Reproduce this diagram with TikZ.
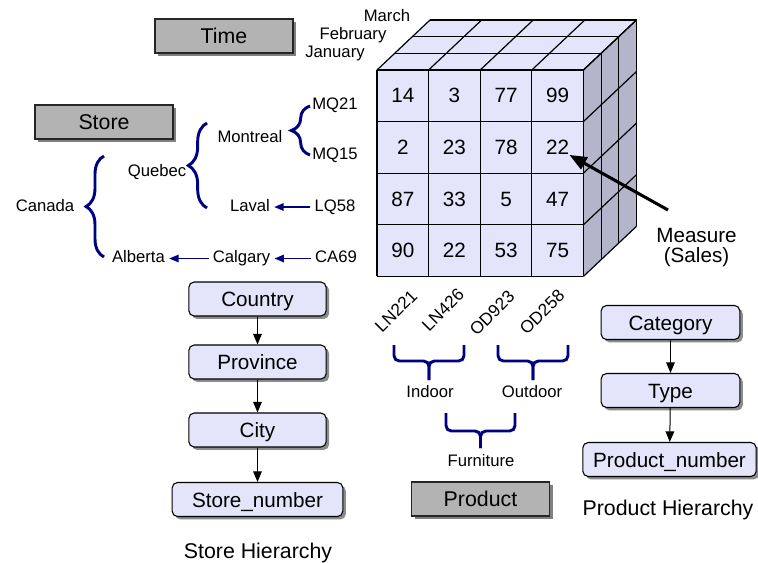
\documentclass[tikz,border=0pt]{standalone}
\usepackage{fontspec}
\setmainfont{Liberation Sans}
\usepackage{tikz}
\usetikzlibrary{arrows.meta}
\usetikzlibrary{shadows}
\usetikzlibrary{decorations.pathreplacing}
\definecolor{lavender}{RGB}{228,228,250}
\definecolor{sidelav}{RGB}{180,180,202}
\definecolor{boxgray}{RGB}{179,179,179}
\definecolor{hiernavy}{RGB}{0,0,128}
\tikzset{
    cubeline/.style={draw=black,line width=0.9pt},
    cellval/.style={font=\fontsize{15.5}{17}\selectfont,inner sep=0pt},
    member/.style={font=\fontsize{12.5}{14}\selectfont,text height=9pt,text depth=2.5pt,inner ysep=1pt,inner xsep=3pt},
    code/.style={font=\fontsize{13}{15}\selectfont,rotate=45,inner sep=1pt},
    dimbox/.style={draw=black!85,line width=0.9pt,fill=boxgray,minimum width=103.5pt,minimum height=25.5pt,
        font=\fontsize{16}{18}\selectfont,text height=11.5pt,text depth=0pt,
        drop shadow={shadow xshift=2.5pt,shadow yshift=-2.5pt,fill=black!50,opacity=1}},
    hierbox/.style={draw=black,line width=0.8pt,fill=lavender,rounded corners=4pt,minimum width=103pt,minimum height=25.5pt,
        font=\fontsize{15.5}{17}\selectfont,text height=11.5pt,text depth=0pt,inner xsep=3pt,
        drop shadow={shadow xshift=2.2pt,shadow yshift=-2.2pt,fill=black!45,opacity=1}},
    caption/.style={font=\fontsize{16}{18}\selectfont},
    rollup/.style={draw=hiernavy,line width=2.2pt,decorate,decoration={brace,amplitude=#1}},
    rollbar/.style={draw=hiernavy,line width=2.2pt,rounded corners=4pt},
    memberarrow/.style={draw=hiernavy,line width=1.1pt,-{Triangle[length=7pt,width=5.5pt]}},
    hierarrow/.style={draw=black,line width=0.75pt,-{Triangle[length=8pt,width=6.5pt]}},
    measurearrow/.style={draw=black,line width=2.3pt,-{Triangle[length=13pt,width=10pt]}}
}

\begin{document}
\begin{tikzpicture}[x=0.75pt,y=-0.75pt]
\useasboundingbox (0,0) rectangle (758,562);

% the cube: side, top and front faces with their grids
\fill[sidelav] (583.4,70) -- (636.5,19.9) -- (636.5,226.3) -- (583.4,276.4) -- cycle;
\fill[lavender] (377,70) -- (430.1,19.9) -- (636.5,19.9) -- (583.4,70) -- cycle;
\fill[lavender] (377,70) rectangle (583.4,276.4);
\foreach \k in {0,...,3} {
    \draw[cubeline] (377+\k*17.7,70-\k*16.7) -- (583.4+\k*17.7,70-\k*16.7) -- ++(0,206.4);
}
\foreach \i in {0,...,4} {
    \draw[cubeline] (377+\i*51.6,70) -- ++(53.1,-50.1);
    \draw[cubeline] (583.4,70+\i*51.6) -- ++(53.1,-50.1);
    \draw[cubeline] (377+\i*51.6,70) -- ++(0,206.4);
    \draw[cubeline] (377,70+\i*51.6) -- ++(206.4,0);
}
\foreach \r/\vals in {1/{14,3,77,99},2/{2,23,78,22},3/{87,33,5,47},4/{90,22,53,75}} {
    \foreach \v [count=\c] in \vals
        \node (n\r\c) at (377+\c*51.6-25.8,70+\r*51.6-25.8)[cellval]{\v};
}

% time members
\node (mar) at (387,17)[member]{March};
\node (feb) at (353,35)[member]{February};
\node (jan) at (335,53)[member]{January};

% dimension boxes
\node (time) at (224,36)[dimbox]{Time};
\node (store) at (104,122)[dimbox]{Store};
\node (product) at (480.5,499)[dimbox]{Product};

% store members
\node (mq21) at (335,105)[member]{MQ21};
\node (mq15) at (335,155)[member]{MQ15};
\node (montreal) at (250,138)[member]{Montreal};
\node (quebec) at (157,172)[member]{Quebec};
\node (laval) at (250,207)[member]{Laval};
\node (lq58) at (335,207)[member]{LQ58};
\node (canada) at (45,207)[member]{Canada};
\node (alberta) at (138.5,258.5)[member]{Alberta};
\node (calgary) at (241.5,258.5)[member]{Calgary};
\node (ca69) at (336,258.5)[member]{CA69};
\draw[rollup=14pt] (310,155) -- (310,106);
\draw[rollup=14pt] (207,208) -- (207,123);
\draw[rollup=13.5pt] (104,257) -- (104,156);
\draw[memberarrow] (lq58) -- (laval);
\draw[memberarrow] (ca69) -- (calgary);
\draw[memberarrow] (calgary) -- (alberta);

% product members
\node (ln221) at (396,311)[code]{LN221};
\node (ln426) at (443,310)[code]{LN426};
\node (od923) at (492,313)[code]{OD923};
\node (od258) at (542,312)[code]{OD258};
\foreach \a/\b/\y/\d in {394/464/345/16,498/568/345/16,446/515/413/18} {
    \pgfmathsetmacro\m{(\a+\b)/2}
    \draw[rollbar] (\a,\y) |- (\m,\y+\d) -- (\m,\y+35);
    \draw[rollbar] (\b,\y) |- (\m,\y+\d) -- (\m,\y+35);
}
\node (indoor) at (430,393.5)[member]{Indoor};
\node (outdoor) at (532,393.5)[member]{Outdoor};
\node (furniture) at (481,462.5)[member]{Furniture};

% measure
\node (meas) at (696.5,247.5)[align=center,font=\fontsize{15.5}{15.5}\selectfont]{Measure\\(Sales)};
\coordinate (mtail) at (668,210);
\draw[measurearrow] (mtail) -- (n24.south east);

% store hierarchy
\node (country) at (257.5,299)[hierbox]{Country};
\node (province) at (257.5,362)[hierbox]{Province};
\node (city) at (257.5,430)[hierbox]{City};
\node (storenum) at (257.5,499.5)[hierbox,minimum width=128pt]{Store\_number};
\draw[hierarrow] (country) -- (province);
\draw[hierarrow] (province) -- (city);
\draw[hierarrow] (city) -- (storenum);
\node (storecap) at (258,553)[caption]{Store Hierarchy};

% product hierarchy
\node (category) at (670.5,322.5)[hierbox,minimum width=104pt]{Category};
\node (type) at (670.5,390.5)[hierbox,minimum width=104pt]{Type};
\node (prodnum) at (669.5,459.5)[hierbox,minimum width=130pt]{Product\_number};
\draw[hierarrow] (category) -- (type);
\draw[hierarrow] (type) -- (prodnum);
\node (prodcap) at (668,509.5)[caption]{Product Hierarchy};
\end{tikzpicture}
\end{document}
